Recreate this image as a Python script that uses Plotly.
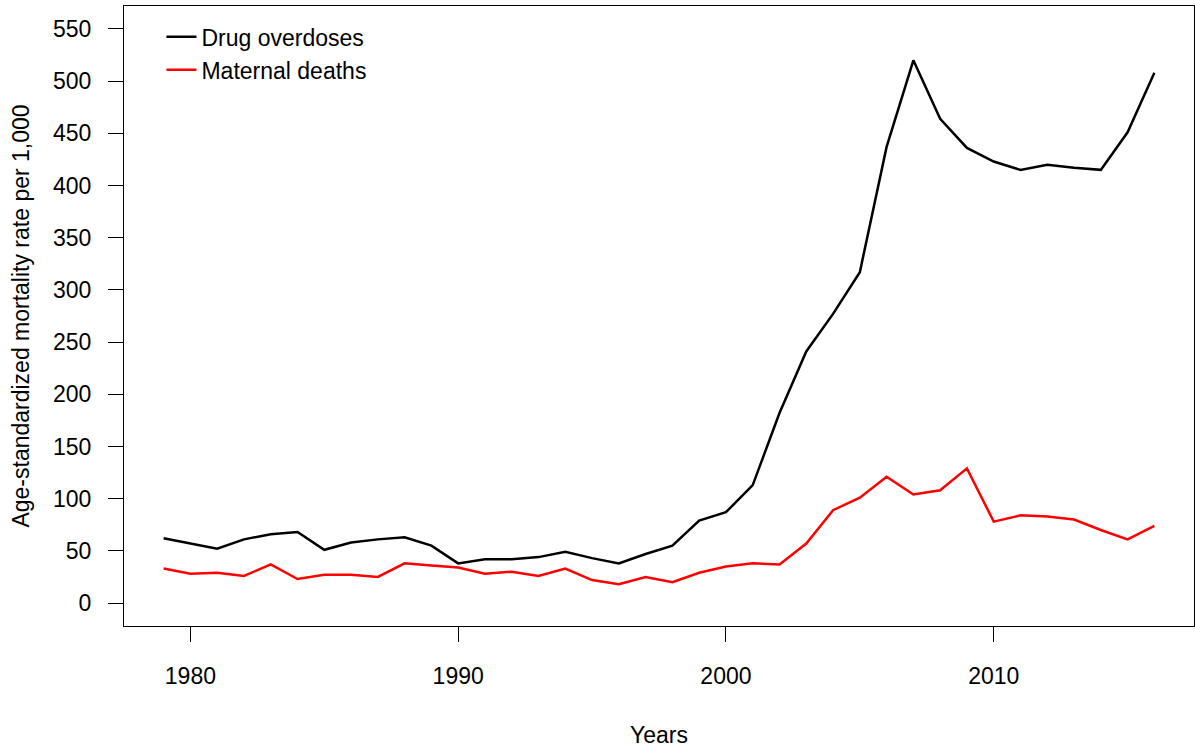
import plotly.graph_objects as go

years = list(range(1979, 2017))
drug_overdoses = [62, 57, 52, 61, 66, 68, 51, 58, 61, 63, 55, 38,
                  42, 42, 44, 49, 43, 38, 47, 55, 79, 87, 113, 182,
                  241, 277, 317, 437, 520, 464, 436, 423, 415, 420,
                  417, 415, 451, 508]
maternal_deaths = [33, 28, 29, 26, 37, 23, 27, 27, 25, 38, 36, 34,
                   28, 30, 26, 33, 22, 18, 25, 20, 29, 35, 38, 37,
                   57, 89, 101, 121, 104, 108, 129, 78, 84, 83,
                   80, 70, 61, 74]
series_names = ["Drug overdoses", "Maternal deaths"]
series_colors = ["black", "red"]
x_ticks = [1980, 1990, 2000, 2010]
y_ticks = list(range(0, 551, 50))

FONT = "Liberation Sans, Arial, sans-serif"

fig = go.Figure()
for name, vals, col in zip(series_names, [drug_overdoses, maternal_deaths], series_colors):
    fig.add_trace(go.Scatter(x=years, y=vals, mode="lines", name=name,
                             line=dict(color=col, width=2.5)))

fig.update_layout(
    width=1195, height=748,
    margin=dict(l=124, r=1, t=6, b=122, autoexpand=False),
    paper_bgcolor="white", plot_bgcolor="white",
    font=dict(family=FONT, size=23, color="black"),
    showlegend=True,
    legend=dict(x=0.035, y=0.985, xanchor="left", yanchor="top",
                bgcolor="rgba(0,0,0,0)", borderwidth=0,
                font=dict(size=23), tracegroupgap=0),
)
fig.update_xaxes(range=[1977.52, 2017.48], tickvals=x_ticks, automargin=False,
                 ticks="outside", ticklen=15, tickwidth=1, tickcolor="black",
                 showline=True, linecolor="black", linewidth=1.2, mirror=True,
                 showgrid=False, zeroline=False, ticklabelstandoff=14,
                 title=dict(text="Years", standoff=45, font=dict(size=23)))
fig.update_yaxes(range=[-22, 572], tickvals=y_ticks, automargin=False,
                 ticks="outside", ticklen=15, tickwidth=1, tickcolor="black",
                 showline=True, linecolor="black", linewidth=1.2, mirror=True,
                 showgrid=False, zeroline=False, ticklabelstandoff=12,
                 title=dict(text="Age-standardized mortality rate per 1,000",
                            standoff=16, font=dict(size=23)))

fig.write_html("out.html", config={"displayModeBar": False},
               post_script="document.body.style.margin='0';document.body.style.padding='0';")
